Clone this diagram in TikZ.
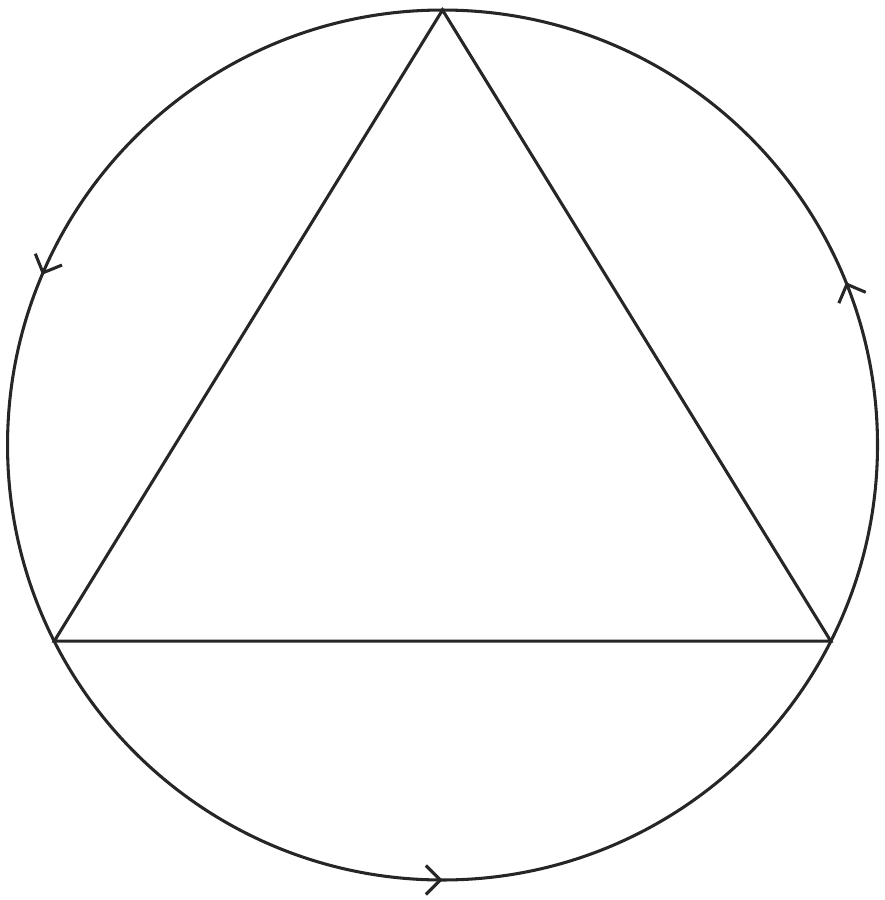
\documentclass[tikz,border=0pt]{standalone}
\usetikzlibrary{arrows.meta, decorations.markings}
\tikzset{
    edge/.style={line width=0.6pt, draw=black!85},
    flow/.style={
        decoration={markings,
            mark=at position 0.061 with {\arrow{Straight Barb[length=1mm,width=2mm]}},
            mark=at position 0.436 with {\arrow{Straight Barb[length=1mm,width=2mm]}},
            mark=at position 0.75 with {\arrow{Straight Barb[length=1mm,width=2mm]}}},
        postaction={decorate}},
}

\begin{document}
\begin{tikzpicture}
                \useasboundingbox (-3.052,-3.138) rectangle (3.045,3.069);
                \coordinate (O) at (0,0);
                \coordinate (A) at (90:3);
                \coordinate (B) at (206.8:3);
                \coordinate (C) at (333.2:3);

                \draw[edge, flow] (O) ++(3,0) arc[start angle=0, end angle=360, radius=3];
                \draw[edge] (A) -- (B) -- (C) -- cycle;
            \end{tikzpicture}
\end{document}
